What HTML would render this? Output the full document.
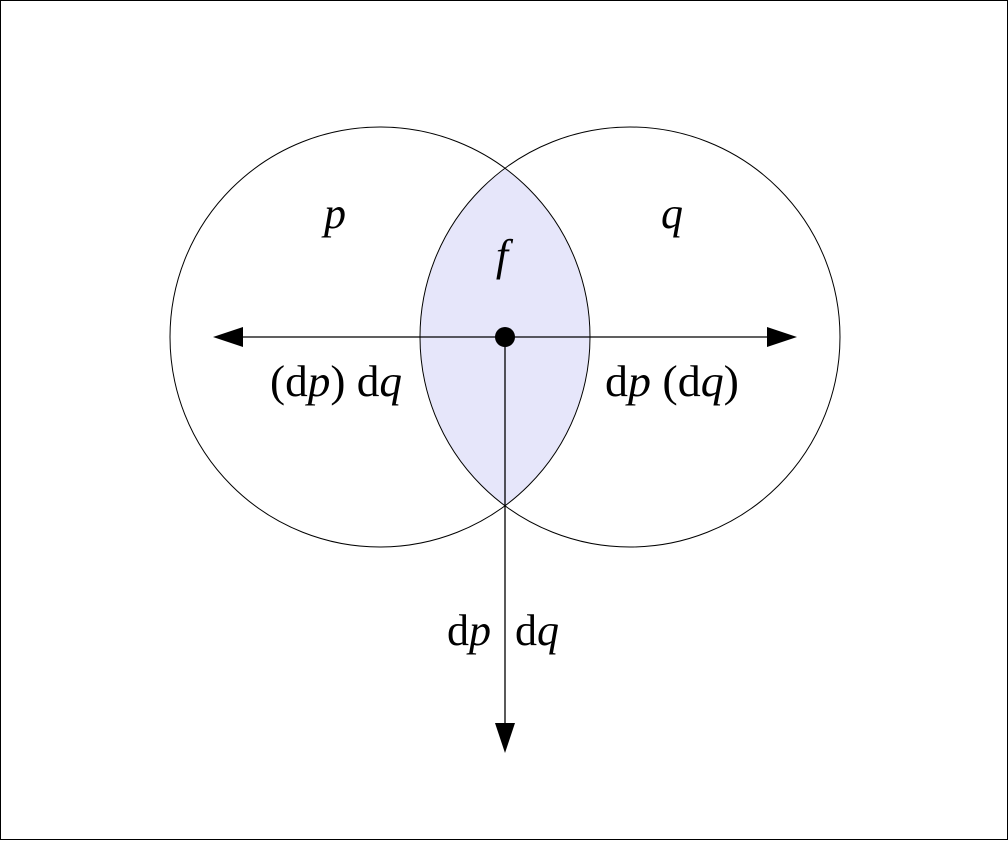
<!DOCTYPE html>
<html><head><style>body{margin:0;background:#fff}</style></head><body>
<svg width="1008" height="840" xmlns="http://www.w3.org/2000/svg" font-family="Liberation Serif, serif">
<rect x="0.5" y="0.5" width="1007" height="839" fill="#fff" stroke="#000" stroke-width="1"/>
<path d="M505,168.7 A210,210 0 0 1 505,505.3 A210,210 0 0 1 505,168.7 Z" fill="#e6e6fa"/>
<circle cx="380" cy="337" r="210" fill="none" stroke="#000" stroke-width="1"/>
<circle cx="630" cy="337" r="210" fill="none" stroke="#000" stroke-width="1"/>
<line x1="240" y1="337" x2="770" y2="337" stroke="#000" stroke-width="1.3"/>
<line x1="505" y1="337" x2="505" y2="725" stroke="#000" stroke-width="1.3"/>
<polygon points="213,337 243,327 243,347" fill="#000"/>
<polygon points="797,337 767,327 767,347" fill="#000"/>
<polygon points="505,753 495,723 515,723" fill="#000"/>
<circle cx="505" cy="337" r="10" fill="#000"/>
<text x="335" y="228" font-size="44" font-style="italic" text-anchor="middle">p</text>
<text x="672" y="228" font-size="44" font-style="italic" text-anchor="middle">q</text>
<text x="502" y="270" font-size="44" font-style="italic" text-anchor="middle">f</text>
<text x="336" y="396" font-size="44" text-anchor="middle" textLength="132" lengthAdjust="spacingAndGlyphs">(d<tspan font-style="italic">p</tspan>) d<tspan font-style="italic">q</tspan></text>
<text x="672" y="396" font-size="44" text-anchor="middle" textLength="134" lengthAdjust="spacingAndGlyphs">d<tspan font-style="italic">p</tspan> (d<tspan font-style="italic">q</tspan>)</text>
<text x="447" y="645" font-size="44">d<tspan font-style="italic">p</tspan></text>
<text x="515" y="645" font-size="44">d<tspan font-style="italic">q</tspan></text>
</svg>
</body></html>
